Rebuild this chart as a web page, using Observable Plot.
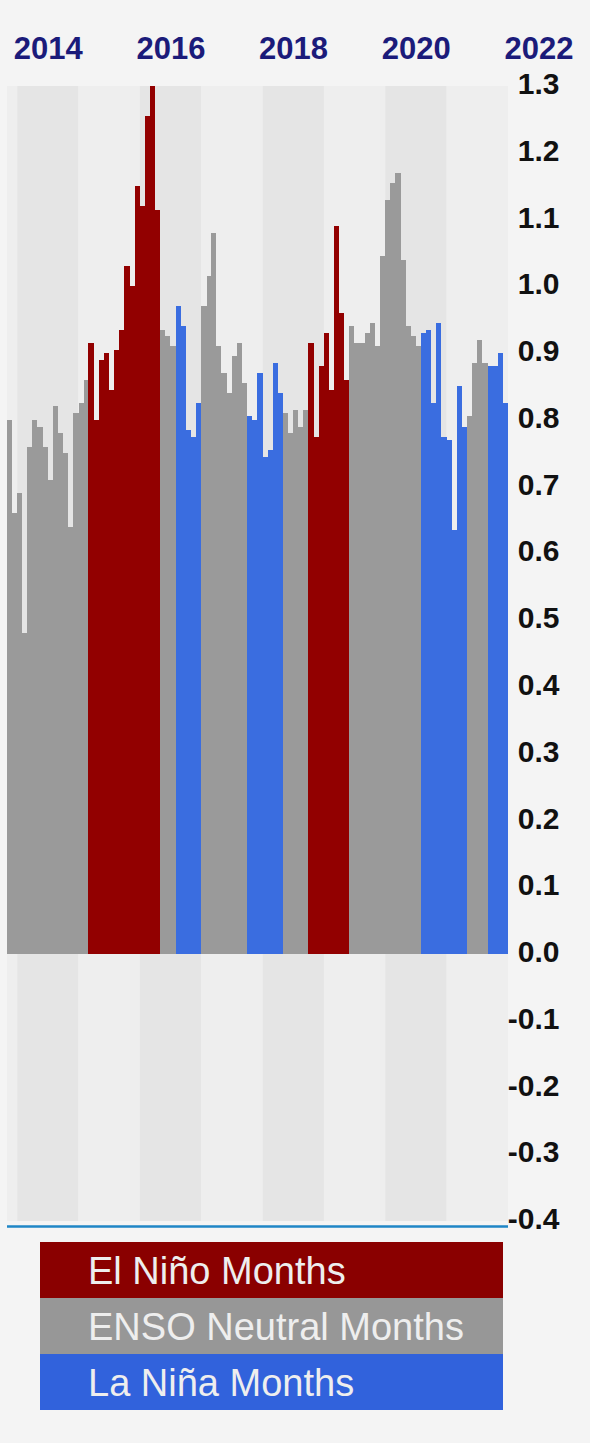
<!DOCTYPE html>
<html><head><meta charset="utf-8">
<script src="https://cdn.jsdelivr.net/npm/d3@7"></script>
<script src="https://cdn.jsdelivr.net/npm/@observablehq/plot@0.6"></script>
<style>
html,body{margin:0;padding:0;background:#f4f4f4;width:590px;height:1443px;overflow:hidden;font-family:"Liberation Sans",Arial,sans-serif;}
#chart svg{display:block;}
#legend{margin:6px 0 0 40px;width:463px;}
#legend div{height:56px;line-height:58px;padding-left:48px;color:#eeeeee;font-size:38px;white-space:nowrap;}
</style></head><body>
<div id="chart"></div>
<div id="legend"></div>
<script>
// Monthly anomalies, Nov 2013 .. Dec 2021
const anomalies = [
  0.80, 0.66,
  0.69, 0.48, 0.76, 0.80, 0.79, 0.76, 0.71, 0.82, 0.78, 0.75, 0.64, 0.81,
  0.825, 0.86, 0.915, 0.80, 0.89, 0.90, 0.845, 0.905, 0.935, 1.03, 1.00, 1.15,
  1.12, 1.255, 1.30, 1.115, 0.935, 0.925, 0.91, 0.97, 0.94, 0.785, 0.775, 0.825,
  0.97, 1.015, 1.08, 0.91, 0.87, 0.84, 0.895, 0.915, 0.855, 0.805, 0.80, 0.87,
  0.745, 0.755, 0.885, 0.84, 0.81, 0.78, 0.815, 0.79, 0.815, 0.915, 0.775, 0.88,
  0.93, 0.845, 1.09, 0.96, 0.86, 0.94, 0.915, 0.915, 0.93, 0.945, 0.91, 1.045,
  1.13, 1.155, 1.17, 1.04, 0.94, 0.925, 0.91, 0.93, 0.935, 0.825, 0.945, 0.775,
  0.77, 0.635, 0.85, 0.79, 0.805, 0.885, 0.92, 0.885, 0.88, 0.88, 0.90, 0.825
];
// ENSO phase runs (phase, number of consecutive months)
const ensoPhases = ["Neutral","El Niño","Neutral","La Niña","Neutral","La Niña","Neutral","El Niño","Neutral","La Niña","Neutral","La Niña"];
const ensoRunMonths = [16, 14, 3, 5, 9, 7, 5, 8, 14, 9, 4, 4];

const phaseDomain = ["El Niño", "Neutral", "La Niña"];
const phaseColors = ["#920000", "#9a9a9a", "#3a6de0"];
const legendLabels = ["El Niño Months", "ENSO Neutral Months", "La Niña Months"];
const legendColors = ["#8a0000", "#979797", "#3162dc"];

const yearLabels = [2014, 2016, 2018, 2020, 2022];
const bandYears = [2013, 2014, 2015, 2016, 2017, 2018, 2019, 2020, 2021];
const yTicks = [-0.4, -0.3, -0.2, -0.1, 0.0, 0.1, 0.2, 0.3, 0.4, 0.5, 0.6, 0.7, 0.8, 0.9, 1.0, 1.1, 1.2, 1.3];

const startY = 2013, startM = 10; // November 2013 (0-based month)
const phaseOf = [];
ensoPhases.forEach((p, i) => { for (let k = 0; k < ensoRunMonths[i]; k++) phaseOf.push(p); });
const months = anomalies.map((v, i) => ({
  start: new Date(Date.UTC(startY, startM + i, 1)),
  end: new Date(Date.UTC(startY, startM + i + 1, 1)),
  value: v,
  phase: phaseOf[i]
}));
const x0 = months[0].start, x1 = months[months.length - 1].end;
const bands = bandYears.map(y => ({
  a: new Date(Math.max(Date.UTC(y, 0, 1), +x0)),
  b: new Date(Date.UTC(y + 1, 0, 1)),
  even: y % 2 === 0
}));

const font = "Liberation Sans, Arial, sans-serif";
const chart = Plot.plot({
  width: 590,
  height: 1236,
  marginTop: 86,
  marginBottom: 15,
  marginLeft: 7,
  marginRight: 82,
  style: {background: "transparent", overflow: "visible", fontFamily: font},
  x: {type: "utc", domain: [x0, x1], axis: null},
  y: {domain: [-0.4, 1.3], axis: null},
  color: {domain: phaseDomain, range: phaseColors},
  marks: [
    Plot.rect(bands, {x1: "a", x2: "b", y1: () => -0.4, y2: () => 1.3, fill: d => d.even ? "#e5e5e5" : "#eeeeee"}),
    Plot.rectY(months, {x1: "start", x2: "end", y: "value", fill: "phase", shapeRendering: "crispEdges"}),
    Plot.ruleY([-0.4], {stroke: "#1f86c6", strokeWidth: 2.5, dy: 5}),
    Plot.text(yearLabels, {x: d => new Date(Date.UTC(d, 6, 1)), frameAnchor: "top", dy: -50, text: d => String(d),
      fill: "#1b1b7a", fontSize: 31, fontWeight: "bold", fontFamily: font}),
    Plot.text(yTicks, {y: d => d, frameAnchor: "right", dx: 51, dy: -2, textAnchor: "end", text: d => d.toFixed(1),
      fill: "#111", fontSize: 30, fontWeight: "bold", fontFamily: font})
  ]
});
document.getElementById("chart").appendChild(chart);

const legend = document.getElementById("legend");
legendLabels.forEach((t, i) => {
  const d = document.createElement("div");
  d.textContent = t;
  d.style.background = legendColors[i];
  legend.appendChild(d);
});
</script>
</body></html>
